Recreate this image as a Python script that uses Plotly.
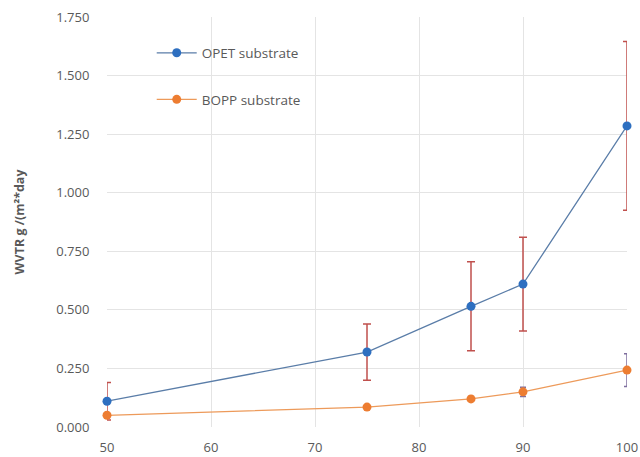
import plotly.graph_objects as go

# Relative humidity (%) and water vapour transmission rate for two substrates
rh = [50, 75, 85, 90, 100]
opet_wvtr = [0.11, 0.32, 0.515, 0.61, 1.285]
opet_err = [0.08, 0.12, 0.19, 0.20, 0.36]
bopp_wvtr = [0.05, 0.085, 0.12, 0.15, 0.243]
bopp_err = [0.01, 0.01, 0.01, 0.02, 0.07]

x_ticks = [50, 60, 70, 80, 90, 100]
y_ticks = [0, 0.25, 0.5, 0.75, 1.0, 1.25, 1.5, 1.75]

font_family = "Open Sans, Noto Sans, sans-serif"
text_grey = "#595959"

fig = go.Figure()

fig.add_trace(go.Scatter(
    x=rh, y=opet_wvtr, name="OPET substrate",
    mode="lines+markers",
    line=dict(color="#5a7da8", width=1.3),
    marker=dict(color="#2e6fc0", size=9),
    error_y=dict(type="data", array=opet_err, visible=True,
                 color="#c0504d", thickness=1.5, width=4),
    legendgroup="a",
    cliponaxis=False,
))

fig.add_trace(go.Scatter(
    x=rh, y=bopp_wvtr, name="BOPP substrate",
    mode="lines+markers",
    line=dict(color="#ed9a5a", width=1.3),
    marker=dict(color="#ed7d31", size=9),
    error_y=dict(type="data", array=bopp_err, visible=True,
                 color="#7f6f9f", thickness=1.5, width=3),
    legendgroup="b",
    cliponaxis=False,
))

fig.update_layout(
    width=640, height=457,
    margin=dict(l=107, r=13, t=17, b=30),
    paper_bgcolor="white",
    plot_bgcolor="white",
    font=dict(family=font_family, size=13, color=text_grey),
    showlegend=True,
    legend=dict(
        x=0.086, y=0.95, xanchor="left", yanchor="top",
        bgcolor="rgba(255,255,255,0)",
        font=dict(size=13.5, color=text_grey),
        tracegroupgap=26,
        itemwidth=40,
    ),
    xaxis=dict(
        range=[50, 100], tickvals=x_ticks,
        showgrid=True, gridcolor="#e4e4e4", gridwidth=1,
        zeroline=False, showline=False, automargin=False,
        ticks="outside", ticklen=8, tickcolor="rgba(0,0,0,0)",
        tickfont=dict(size=13, color=text_grey),
    ),
    yaxis=dict(
        range=[0, 1.75], tickvals=y_ticks, tickformat=".3f",
        showgrid=True, gridcolor="#e4e4e4", gridwidth=1,
        zeroline=False, showline=False, automargin=False,
        ticks="outside", ticklen=14, tickcolor="rgba(0,0,0,0)",
        tickfont=dict(size=13, color=text_grey),
        title=dict(text="<b>WVTR g /(m²*day</b>", font=dict(size=12.5, color=text_grey),
                   standoff=28),
    ),
)

fig.write_html("out.html")
